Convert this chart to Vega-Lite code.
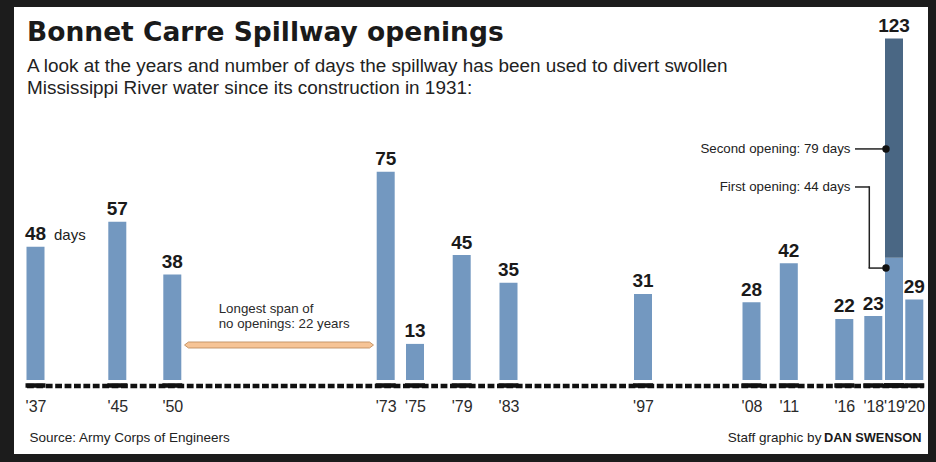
{
  "$schema": "https://vega.github.io/schema/vega-lite/v6.json",
  "width": 914,
  "height": 447,
  "autosize": {"type": "none"},
  "padding": {"left": 14, "top": 7, "right": 8, "bottom": 8},
  "background": "#1c1c1c",
  "config": {
    "view": {"fill": "#ffffff", "stroke": null},
    "font": "Liberation Sans"
  },
  "title": {
    "text": "Bonnet Carre Spillway openings",
    "subtitle": ["A look at the years and number of days the spillway has been used to divert swollen", "Mississippi River water since its construction in 1931:"],
    "anchor": "start",
    "frame": "group",
    "orient": "top",
    "baseline": "top",
    "offset": -91,
    "dx": 13,
    "font": "DejaVu Sans",
    "fontSize": 26.5,
    "fontWeight": "bold",
    "color": "#1a1a1a",
    "subtitleFont": "Liberation Sans",
    "subtitleFontSize": 18.9,
    "subtitleLineHeight": 22,
    "subtitlePadding": 11,
    "subtitleColor": "#222222"
  },
  "datasets": {
    "openings": [
      {"year": 1937, "days": 48, "part": "single"},
      {"year": 1945, "days": 57, "part": "single"},
      {"year": 1950, "days": 38, "part": "single"},
      {"year": 1973, "days": 75, "part": "single"},
      {"year": 1975, "days": 13, "part": "single"},
      {"year": 1979, "days": 45, "part": "single"},
      {"year": 1983, "days": 35, "part": "single"},
      {"year": 1997, "days": 31, "part": "single"},
      {"year": 2008, "days": 28, "part": "single"},
      {"year": 2011, "days": 42, "part": "single"},
      {"year": 2016, "days": 22, "part": "single"},
      {"year": 2018, "days": 23, "part": "single"},
      {"year": 2019, "days": 44, "part": "first"},
      {"year": 2019, "days": 79, "part": "second"},
      {"year": 2020, "days": 29, "part": "single"}
    ]
  },
  "encoding": {
    "x": {
      "field": "year",
      "type": "quantitative",
      "scale": {
        "domain": [1936, 1937, 1945, 1950, 1973, 1975, 1979, 1983, 1997, 2008, 2011, 2016, 2018, 2019, 2020, 2021],
        "range": [12.5, 21.5, 103.3, 158.3, 371.7, 401, 447.7, 494.5, 629, 737.5, 774.8, 830.3, 859.3, 880, 900.3, 909.3],
        "nice": false,
        "zero": false
      },
      "axis": {
        "orient": "bottom",
        "offset": -68.5,
        "title": null,
        "grid": false,
        "ticks": false,
        "tickSize": 0,
        "values": [1937, 1945, 1950, 1973, 1975, 1979, 1983, 1997, 2008, 2011, 2016, 2018, 2019, 2020],
        "labelExpr": "\"'\" + slice(format(datum.value, 'd'), 2)",
        "labelFont": "Liberation Sans",
        "labelFontSize": 16,
        "labelColor": "#2a2a2a",
        "labelPadding": 12.5,
        "labelOverlap": false,
        "labelFlush": false,
        "labelBound": false,
        "domainColor": "#111111",
        "domainWidth": 4.5,
        "domainDash": [6.8, 2.6],
        "domainCap": "butt"
      }
    },
    "y": {
      "field": "days",
      "type": "quantitative",
      "scale": {"domain": [0, 123], "range": [373, 31.4], "nice": false, "zero": false},
      "axis": null
    }
  },
  "layer": [
    {
      "data": {"name": "openings"},
      "mark": {"type": "bar", "width": 18},
      "encoding": {
        "color": {
          "field": "part",
          "type": "nominal",
          "scale": {"domain": ["single", "first", "second"], "range": ["#7398c0", "#7398c0", "#4a6784"]},
          "legend": null
        },
        "order": {"field": "part", "sort": "ascending"}
      }
    },
    {
      "data": {"name": "openings"},
      "mark": {"type": "tick", "orient": "horizontal", "size": 20, "thickness": 4.5, "color": "#111111", "opacity": 1, "yOffset": 5.5},
      "encoding": {
        "y": {"datum": 0, "type": "quantitative", "axis": null}
      }
    },
    {
      "data": {"name": "openings"},
      "transform": [{"aggregate": [{"op": "sum", "field": "days", "as": "total"}], "groupby": ["year"]}],
      "mark": {"type": "text", "baseline": "alphabetic", "dy": -6.5, "fontSize": 19, "fontWeight": "bold", "color": "#1a1a1a", "font": "Liberation Sans"},
      "encoding": {
        "y": {"field": "total", "type": "quantitative", "axis": null},
        "text": {"field": "total", "type": "quantitative"}
      }
    },
    {
      "data": {"values": [{"year": 1937, "days": 48, "label": "days"}]},
      "mark": {"type": "text", "align": "left", "baseline": "alphabetic", "dx": 18.5, "dy": -6.5, "fontSize": 15, "color": "#222222", "font": "Liberation Sans"},
      "encoding": {
        "text": {"field": "label"}
      }
    },
    {
      "data": {"values": [{"year": 1961.5, "days": 12.6}]},
      "mark": {"type": "point", "filled": true, "opacity": 1, "shape": "M-1,0L-0.958,-0.032L0.958,-0.032L1,0L0.958,0.032L-0.958,0.032Z", "size": 35721, "color": "#f6c496", "stroke": "#b98655", "strokeWidth": 0.8}
    },
    {
      "data": {"values": [{"year": 1955, "days": 24.1, "label": ["Longest span of", "no openings: 22 years"]}]},
      "mark": {"type": "text", "align": "left", "baseline": "alphabetic", "fontSize": 13.3, "lineHeight": 15, "color": "#2a2a2a", "font": "Liberation Sans"},
      "encoding": {
        "text": {"field": "label"}
      }
    },
    {
      "data": {"values": [{"year": 2019, "days": 83.2, "label": "Second opening: 79 days"}, {"year": 2019, "days": 69.5, "label": "First opening: 44 days"}]},
      "mark": {"type": "text", "align": "right", "baseline": "middle", "dx": -43.5, "fontSize": 13.3, "color": "#222222", "font": "Liberation Sans"},
      "encoding": {
        "text": {"field": "label"}
      }
    },
    {
      "data": {"values": [{"year": 2019, "days": 83.2}]},
      "mark": {"type": "rule", "xOffset": -39, "x2Offset": -8, "color": "#222222", "strokeWidth": 1.5},
      "encoding": {
        "x2": {"field": "year"}
      }
    },
    {
      "data": {"values": [{"year": 2019, "days": 69.5}]},
      "mark": {"type": "rule", "xOffset": -39, "x2Offset": -24.7, "color": "#222222", "strokeWidth": 1.5},
      "encoding": {
        "x2": {"field": "year"}
      }
    },
    {
      "data": {"values": [{"year": 2019, "days": 69.77, "to": 40.3}]},
      "mark": {"type": "rule", "xOffset": -24.7, "color": "#222222", "strokeWidth": 1.5},
      "encoding": {
        "y2": {"field": "to"}
      }
    },
    {
      "data": {"values": [{"year": 2019, "days": 40.3}]},
      "mark": {"type": "rule", "xOffset": -25.45, "x2Offset": -8, "color": "#222222", "strokeWidth": 1.5},
      "encoding": {
        "x2": {"field": "year"}
      }
    },
    {
      "data": {"values": [{"year": 2019, "days": 83.2}, {"year": 2019, "days": 40.3}]},
      "mark": {"type": "point", "filled": true, "opacity": 1, "size": 55, "color": "#111111", "xOffset": -8}
    },
    {
      "data": {"values": [{"year": 1936, "days": -20.9, "label": "Source: Army Corps of Engineers"}]},
      "mark": {"type": "text", "align": "left", "baseline": "middle", "fontSize": 13.5, "color": "#222222", "font": "Liberation Sans"},
      "encoding": {
        "text": {"field": "label"}
      }
    },
    {
      "data": {"values": [{"year": 2021, "days": -20.9, "label": "Staff graphic by"}]},
      "mark": {"type": "text", "align": "right", "baseline": "middle", "dx": -99, "fontSize": 13.5, "color": "#222222", "font": "Liberation Sans"},
      "encoding": {
        "text": {"field": "label"}
      }
    },
    {
      "data": {"values": [{"year": 2021, "days": -20.9, "label": "DAN SWENSON"}]},
      "mark": {"type": "text", "align": "right", "baseline": "middle", "dx": 1, "fontSize": 12.8, "fontWeight": "bold", "color": "#1a1a1a", "font": "Liberation Sans"},
      "encoding": {
        "text": {"field": "label"}
      }
    }
  ]
}
